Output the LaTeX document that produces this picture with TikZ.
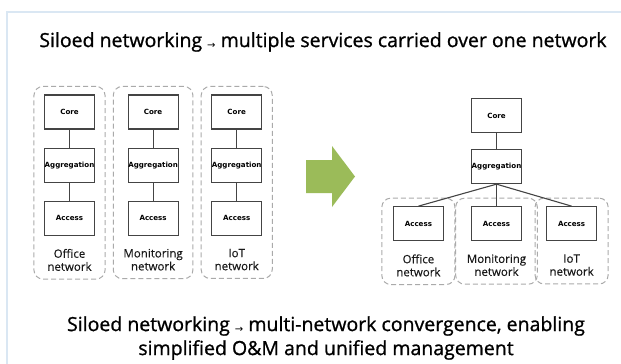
\documentclass[tikz,border=0pt]{standalone}
\usepackage{fontspec}
\setmainfont{Open Sans}
\newfontfamily\symfont{DejaVu Sans}
\newfontfamily\boxfont{DejaVu Sans}
\usepackage{tikz}
\usetikzlibrary{calc}
\usetikzlibrary{fit, positioning}
\definecolor{boxgray}{RGB}{68,68,68}
\definecolor{dashgray}{RGB}{170,170,170}
\definecolor{arrowgreen}{RGB}{155,187,89}
\definecolor{panelblue}{RGB}{218,231,243}
\newcommand{\tarrow}{{\symfont\fontsize{10}{10}\selectfont\raisebox{-1pt}{→}}}
\tikzset{
device/.style = {rectangle, draw=boxgray, line width=1.1pt, minimum width=50pt, minimum height=34pt, inner sep=0pt, align=center, font=\boxfont\bfseries\fontsize{7.1}{9}\selectfont, fill=white},
netlabel/.style = {inner sep=0pt, align=center, font=\addfontfeature{FakeBold=0.3}\fontsize{11.5}{13}\selectfont, text=black!90},
netgroup/.style = {rectangle, draw=dashgray, dashed, dash pattern=on 5pt off 3pt, rounded corners=9pt, line width=1pt, inner xsep=10pt, inner ysep=8pt},
link/.style = {draw=boxgray, line width=1.1pt},
title/.style = {align=center, font=\addfontfeature{FakeBold=1}\fontsize{19.5}{24}\selectfont, text=black}
}

\begin{document}
\begin{tikzpicture}[x=1pt, y=-1pt, node distance=18pt and 32.5pt]

\useasboundingbox (0,0) rectangle (621,364);
\draw [panelblue, line width=1.5pt] (7,364) -- (7,12) -- (621,12);

\node (toptitle) [title] at (323,42) {Siloed networking \tarrow{} multiple services carried over one network};

% siloed networks
\node (core1) [device] at (69.5,112) {Core};
\node (agg1) [device, below=of core1] {Aggregation};
\node (acc1) [device, below=of agg1] {Access};
\node (lab1) [netlabel, below=13pt of acc1] {Office\\network};

\node (core2) [device, right=of core1] {Core};
\node (agg2) [device, below=of core2] {Aggregation};
\node (acc2) [device, below=of agg2] {Access};
\node (lab2) [netlabel, below=13pt of acc2] {Monitoring\\network};

\node (core3) [device, right=of core2] {Core};
\node (agg3) [device, below=of core3] {Aggregation};
\node (acc3) [device, below=of agg3] {Access};
\node (lab3) [netlabel, below=13pt of acc3] {IoT\\network};

\draw [link] (core1) -- (agg1) -- (acc1);
\draw [link] (core2) -- (agg2) -- (acc2);
\draw [link] (core3) -- (agg3) -- (acc3);

\node (office) [netgroup, fit=(core1)(lab1)] {};
\node (monitor) [netgroup, fit=(core2)(lab2)] {};
\node (iot) [netgroup, fit=(core3)(lab3)] {};

% green arrow
\fill [arrowgreen] (306,160) -- (332,160) -- (332,146) -- (355,176.5) -- (332,207) -- (332,193) -- (306,193) -- cycle;

% converged network
\node (rcore) [device] at (496.5,115.5) {Core};
\node (ragg) [device, below=16pt of rcore] {Aggregation};
\node (racc2) [device, below=22pt of ragg] {Access};
\node (racc1) [device, left=27pt of racc2] {Access};
\node (racc3) [device, right=24pt of racc2] {Access};
\node (rlab1) [netlabel, below=13pt of racc1] {Office\\network};
\node (rlab2) [netlabel, below=13pt of racc2] {Monitoring\\network};
\node (rlab3) [netlabel, below=13pt of racc3] {IoT\\network};

\node (roffice) [netgroup, inner xsep=11pt, fit=(racc1)(rlab1)] {};
\node (rmonitor) [netgroup, inner xsep=11pt, fit=(racc2)(rlab2)] {};
\node (riot) [netgroup, inner xsep=11pt, fit=(racc3)(rlab3)] {};

\draw [link] (rcore) -- (ragg);
\draw [link] (ragg.south) -- (racc1.north);
\draw [link] (ragg.south) -- (racc2.north);
\draw [link] (ragg.south) -- (racc3.north);

\node (bottomtitle) [title] at (326,338) {Siloed networking \tarrow{} multi-network convergence, enabling\\simplified O\&M and unified management};

\end{tikzpicture}
\end{document}
